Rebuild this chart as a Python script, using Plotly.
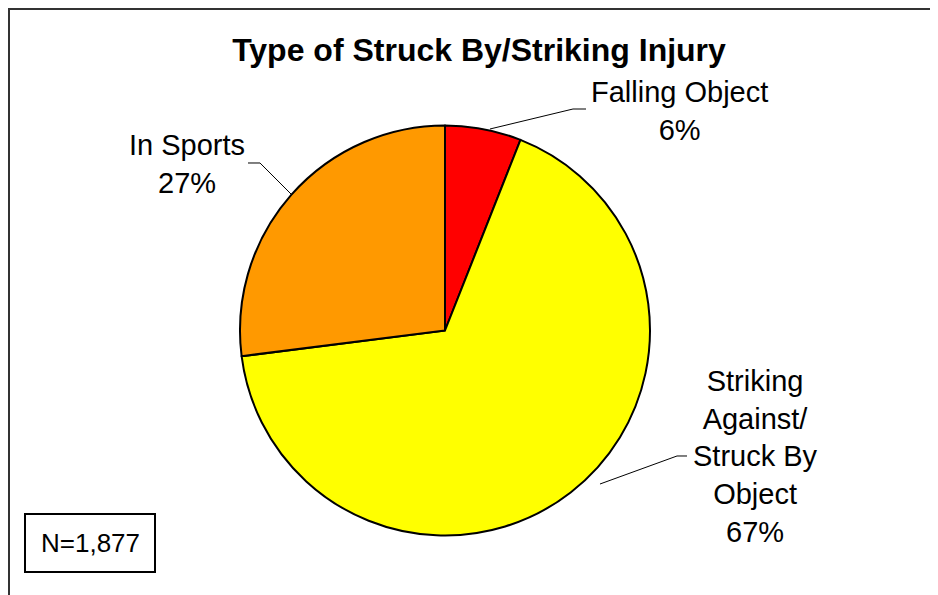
import plotly.graph_objects as go

# slices, clockwise from 12 o'clock
labels = ["Falling Object", "Striking Against/ Struck By Object", "In Sports"]
values = [6, 67, 27]
colors = ["#FF0000", "#FFFF00", "#FF9900"]
label_text = ["Falling Object<br>6%",
              "Striking<br>Against/<br>Struck By<br>Object<br>67%",
              "In Sports<br>27%"]
n_text = "N=1,877"

W, H = 938, 595
OFF = 8  # page body margin

def px(x):
    return (x - OFF) / W

def py(y):
    return 1 - (y - OFF) / H

fig = go.Figure()
fig.add_trace(go.Pie(labels=labels, values=values, sort=False, direction="clockwise",
                     rotation=0, textinfo="none", hoverinfo="label+percent",
                     marker=dict(colors=colors, line=dict(color="black", width=2)),
                     domain=dict(x=[px(240), px(650)], y=[py(536), py(125)]),
                     showlegend=False))

font = "Liberation Sans, Arial, sans-serif"

# data labels
lab_pos = [(679, 111), (755, 456), (187, 164)]
for t, (x, y) in zip(label_text, lab_pos):
    fig.add_annotation(text=t, x=px(x), y=py(y), xref="paper", yref="paper",
                       showarrow=False, xanchor="center", yanchor="middle",
                       align="center", font=dict(family=font, size=29, color="black"))

# leader lines
leaders = [[(490, 129), (573, 109), (586, 109)],
           [(600, 484), (677, 456), (687, 456)],
           [(292, 195), (260, 163), (248, 163)]]
for pts in leaders:
    path = "M " + " L ".join("%f,%f" % (px(a), py(b)) for a, b in pts)
    fig.add_shape(type="path", path=path, xref="paper", yref="paper",
                  line=dict(color="black", width=1))

# outer frame
fig.add_shape(type="rect", xref="paper", yref="paper", x0=px(9), x1=px(960),
              y0=py(620), y1=py(9), line=dict(color="#333333", width=2))

# N box
fig.add_shape(type="rect", xref="paper", yref="paper", x0=px(25), x1=px(155),
              y0=py(572), y1=py(514), line=dict(color="black", width=2),
              fillcolor="white")
fig.add_annotation(text=n_text, x=px(90), y=py(543), xref="paper", yref="paper",
                   showarrow=False, xanchor="center", yanchor="middle",
                   font=dict(family=font, size=26, color="black"))

fig.update_layout(
    width=W, height=H,
    margin=dict(l=0, r=0, t=0, b=0),
    paper_bgcolor="white", plot_bgcolor="white",
    title=dict(text="<b>Type of Struck By/Striking Injury</b>", x=px(479), y=py(50),
               xanchor="center", yanchor="middle",
               font=dict(family=font, size=32, color="black")),
)

fig.write_html("out.html")
